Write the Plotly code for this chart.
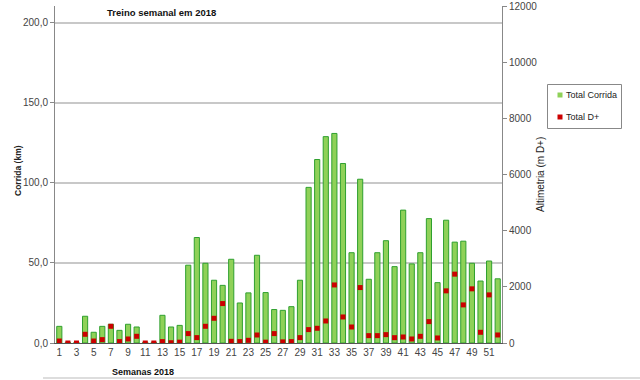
import plotly.graph_objects as go

weeks = list(range(1, 53))
corrida_km = [10.4, 0.5, 0.5, 16.7, 6.7, 10.4, 11.7, 7.9, 11.7, 10.0,
              0.5, 0.5, 17.3, 10.0, 11.0, 48.6, 65.9, 49.8, 39.2, 36.0,
              52.3, 25.0, 31.3, 54.8, 31.5, 20.9, 20.4, 22.7, 39.2, 97.2,
              114.6, 128.9, 130.9, 112.1, 56.4, 102.3, 39.8, 56.4, 63.9, 47.7,
              83.0, 49.4, 56.4, 77.7, 37.7, 76.7, 63.0, 63.6, 49.8, 38.7,
              51.2, 40.1]
d_plus_m = [70, 0, 0, 310, 70, 120, 595, 50, 143, 239,
            0, 0, 50, 10, 30, 335, 192, 595, 880, 1404,
            60, 50, 96, 285, 30, 335, 40, 50, 192, 477,
            524, 784, 2067, 927, 570, 1974, 262, 262, 298, 190,
            214, 143, 238, 762, 179, 1857, 2452, 1357, 1929, 381,
            1714, 286]

left_ticks = [0, 50, 100, 150, 200]
left_tick_text = ["0,0", "50,0", "100,0", "150,0", "200,0"]
right_ticks = [0, 2000, 4000, 6000, 8000, 10000, 12000]
x_ticks = list(range(1, 53, 2))
legend_names = ["Total Corrida", "Total D+"]
legend_colors = ["#8FD158", "#CC0000"]

FONT = "Liberation Sans"
L, R, T, B = 55, 138, 6, 37
pw, ph = 640 - L - R, 380 - T - B


def px_x(x):
    return (x - L) / pw


def px_y(y):
    return (380 - B - y) / ph


fig = go.Figure()
fig.add_trace(go.Bar(
    x=weeks, y=corrida_km, name=legend_names[0],
    marker=dict(color=legend_colors[0], line=dict(color="#2FA02F", width=1)),
    yaxis="y", showlegend=False,
))
fig.add_trace(go.Scatter(
    x=weeks, y=d_plus_m, name=legend_names[1], mode="markers",
    marker=dict(symbol="square", color=legend_colors[1], size=5),
    yaxis="y2", showlegend=False,
))

fig.update_layout(
    width=640, height=380,
    margin=dict(l=L, r=R, t=T, b=B, autoexpand=False),
    paper_bgcolor="white", plot_bgcolor="white",
    bargap=0.4,
    showlegend=False,
    font=dict(family=FONT, size=10, color="#222222"),
    xaxis=dict(
        range=[0.5, 52.5], tickvals=x_ticks, ticktext=[str(v) for v in x_ticks],
        showgrid=False, showline=True, linecolor="#555555", linewidth=1,
        ticks="", tickfont=dict(size=10, color="#444444"), zeroline=False,
        automargin=False,
    ),
    yaxis=dict(
        range=[0, 210.5], tickvals=left_ticks, ticktext=left_tick_text,
        showgrid=True, gridcolor="#C8C8C8", gridwidth=2,
        showline=True, linecolor="#888888", linewidth=1,
        ticks="outside", ticklen=4, tickcolor="#888888",
        tickfont=dict(size=10, color="#444444"), zeroline=False,
        automargin=False,
    ),
    yaxis2=dict(
        range=[0, 12000], tickvals=right_ticks, ticktext=[str(v) for v in right_ticks],
        overlaying="y", side="right", showgrid=False,
        showline=True, linecolor="#888888", linewidth=1,
        ticks="outside", ticklen=4, tickcolor="#888888",
        tickfont=dict(size=10, color="#444444"), zeroline=False,
        automargin=False,
    ),
)

annotations = [
    dict(text="<b>Treino semanal em 2018</b>", x=px_x(161.5), y=px_y(12.5),
         font=dict(size=9.5, color="#111111")),
    dict(text="<b>Semanas 2018</b>", x=px_x(143), y=px_y(372),
         font=dict(size=9, color="#111111")),
    dict(text="<b>Corrida (km)</b>", x=px_x(18), y=px_y(171), textangle=-90,
         font=dict(size=8.5, color="#222222")),
    dict(text="Altimetria (m D+)", x=px_x(540), y=px_y(175), textangle=-90,
         font=dict(size=10, color="#222222")),
]
legend_y = [95, 117]
for name, yy in zip(legend_names, legend_y):
    annotations.append(dict(text=name, x=px_x(564), y=px_y(yy), xanchor="left",
                            font=dict(size=9, color="#222222")))
for a in annotations:
    a.setdefault("xref", "paper")
    a.setdefault("yref", "paper")
    a.setdefault("xanchor", "center")
    a.setdefault("yanchor", "middle")
    a.setdefault("showarrow", False)
fig.update_layout(annotations=annotations)

shapes = [
    dict(type="rect", xref="paper", yref="paper",
         x0=px_x(547.5), x1=px_x(621.5), y0=px_y(84.5), y1=px_y(128.5),
         line=dict(color="#888888", width=1), fillcolor="white"),
    dict(type="line", xref="paper", yref="paper",
         x0=px_x(43), x1=px_x(640), y0=px_y(378), y1=px_y(378),
         line=dict(color="#BBBBBB", width=1)),
]
for col, yy in zip(legend_colors, legend_y):
    shapes.append(dict(type="rect", xref="paper", yref="paper",
                       x0=px_x(557.5), x1=px_x(562.5), y0=px_y(yy - 2.5), y1=px_y(yy + 2.5),
                       line=dict(width=0), fillcolor=col))
fig.update_layout(shapes=shapes)

fig.write_html("out.html", config={"displayModeBar": False},
               post_script="document.body.style.margin='0';document.body.style.overflow='hidden';")
